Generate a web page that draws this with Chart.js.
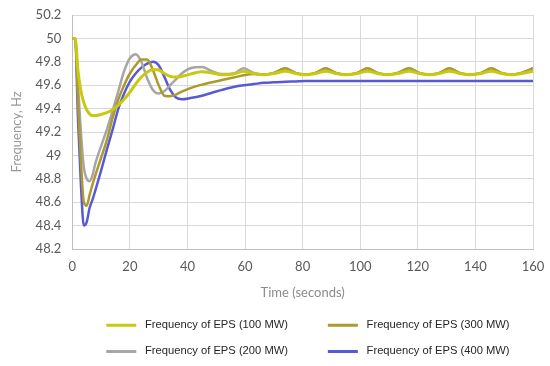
<!DOCTYPE html>
<html lang="en">
<head>
<meta charset="UTF-8">
<title>Frequency of EPS</title>
<style>
  body { margin: 0; background: #ffffff; }
  .wrap { width: 550px; height: 366px; position: relative; }
</style>
</head>
<body>
<div class="wrap"><canvas id="freqChart"></canvas></div>
<script src="https://cdn.jsdelivr.net/npm/chart.js"></script>
<script>
  // time axis (seconds)
  var times = [0, 1, 2, 3, 4, 5, 6, 7, 8, 10, 12, 14, 16, 18, 20, 22, 24, 26, 28, 30, 32, 34, 36, 38,
    41, 45, 48.5, 52, 56, 59.5, 63, 66.5, 70, 74, 77.5, 81, 84.5, 88, 91.5, 95, 99, 102.5, 106, 109.5,
    113, 117, 120.5, 124, 127.5, 131, 134.5, 138, 142, 145.5, 149, 152.5, 156, 160];

  var freq100 = [50, 50, 49.72, 49.55, 49.45, 49.39, 49.355, 49.34, 49.34, 49.35, 49.365, 49.39, 49.43, 49.48, 49.54, 49.61, 49.67, 49.71, 49.735, 49.73, 49.70, 49.675, 49.67, 49.675,
    49.695, 49.715, 49.705, 49.69, 49.695, 49.72, 49.70, 49.69, 49.70, 49.72, 49.70, 49.69, 49.70, 49.72, 49.70, 49.69, 49.70, 49.72, 49.70, 49.69,
    49.70, 49.72, 49.70, 49.69, 49.70, 49.72, 49.70, 49.69, 49.70, 49.72, 49.70, 49.69, 49.70, 49.72];

  var freq200 = [50, 50, 49.6, 49.2, 48.9, 48.8, 48.78, 48.83, 48.93, 49.08, 49.22, 49.38, 49.55, 49.72, 49.83, 49.865, 49.80, 49.66, 49.56, 49.53, 49.55, 49.6, 49.65, 49.7,
    49.745, 49.755, 49.72, 49.695, 49.70, 49.745, 49.705, 49.69, 49.705, 49.745, 49.705, 49.69, 49.705, 49.745, 49.705, 49.69, 49.705, 49.745, 49.705, 49.69,
    49.705, 49.745, 49.705, 49.69, 49.705, 49.745, 49.705, 49.69, 49.705, 49.745, 49.705, 49.69, 49.705, 49.745];

  var freq300 = [50, 50, 49.45, 48.95, 48.6, 48.57, 48.66, 48.75, 48.83, 48.98, 49.13, 49.32, 49.48, 49.6, 49.7, 49.77, 49.82, 49.82, 49.73, 49.6, 49.51, 49.505, 49.52, 49.545,
    49.575, 49.605, 49.625, 49.645, 49.665, 49.685, 49.695, 49.69, 49.705, 49.745, 49.705, 49.69, 49.705, 49.745, 49.705, 49.69, 49.705, 49.745, 49.705, 49.69,
    49.705, 49.745, 49.705, 49.69, 49.705, 49.745, 49.705, 49.69, 49.705, 49.745, 49.705, 49.69, 49.705, 49.745];

  var freq400 = [50, 50, 49.3, 48.75, 48.4, 48.43, 48.55, 48.62, 48.7, 48.87, 49.05, 49.22, 49.4, 49.53, 49.63, 49.70, 49.75, 49.785, 49.80, 49.77, 49.67, 49.56, 49.495, 49.48,
    49.49, 49.51, 49.535, 49.56, 49.585, 49.60, 49.61, 49.62, 49.625, 49.63, 49.632, 49.635, 49.635, 49.635, 49.635, 49.635, 49.635, 49.635, 49.635, 49.635,
    49.635, 49.635, 49.635, 49.635, 49.635, 49.635, 49.635, 49.635, 49.635, 49.635, 49.635, 49.635, 49.635, 49.635];

  // legend order: two columns, 100/300 on top, 200/400 below
  var seriesNames = ['Frequency of EPS (100 MW)', 'Frequency of EPS (300 MW)', 'Frequency of EPS (200 MW)', 'Frequency of EPS (400 MW)'];
  var seriesValues = [freq100, freq300, freq200, freq400];
  var seriesColors = ['#c9c912', '#ad9a2c', '#a6a6a6', '#5959d6'];

  function points(values) {
    return values.map(function(v, i) { return { x: times[i], y: v }; });
  }

  var datasets = seriesValues.map(function(vals, i) {
    return {
      label: seriesNames[i],
      data: points(vals),
      borderColor: seriesColors[i],
      backgroundColor: seriesColors[i],
      borderWidth: i === 0 ? 3 : 2.5,
      pointRadius: 0,
      cubicInterpolationMode: 'monotone'
    };
  });

  var tickFont = { family: 'Lato', size: 13 };

  new Chart(document.getElementById('freqChart'), {
    type: 'line',
    data: { datasets: datasets },
    options: {
      responsive: true,
      maintainAspectRatio: false,
      animation: false,
      layout: { padding: { left: 5, right: 13, top: 2, bottom: -1 } },
      scales: {
        x: {
          type: 'linear',
          min: 0,
          max: 160,
          afterFit: function(scale) { scale.paddingRight = 17; },
          ticks: { stepSize: 20, color: '#595959', font: tickFont, padding: 10 },
          grid: { color: '#d9d9d9', drawTicks: false },
          border: { color: '#bfbfbf' },
          title: { display: true, text: 'Time (seconds)', color: '#8c8c8c', font: tickFont, padding: { top: 0, bottom: 4.4 } }
        },
        y: {
          min: 48.2,
          max: 50.2,
          afterFit: function(scale) { scale.paddingTop = 15; },
          ticks: {
            stepSize: 0.2,
            color: '#595959',
            font: tickFont,
            padding: 11,
            callback: function(v) { return String(Number(v.toFixed(1))); }
          },
          grid: { color: '#d9d9d9', drawTicks: false },
          border: { color: '#bfbfbf' },
          title: { display: true, text: 'Frequency, Hz', color: '#999999', font: tickFont, padding: { top: 4, bottom: 0 } }
        }
      },
      plugins: {
        legend: {
          position: 'bottom',
          align: 'end',
          labels: {
            boxWidth: 30,
            boxHeight: 3,
            padding: 15,
            color: '#262626',
            font: { family: 'Liberation Sans', size: 11.2 },
            generateLabels: function(chart) {
              return Chart.defaults.plugins.legend.labels.generateLabels(chart).map(function(item, i) {
                item.lineWidth = 0;
                // spacing so the entries sit in two columns
                item.text = ' ' + item.text + (i % 2 === 0 ? '        ' : '    ');
                return item;
              });
            }
          }
        },
        tooltip: { enabled: false }
      }
    }
  });
</script>
</body>
</html>
